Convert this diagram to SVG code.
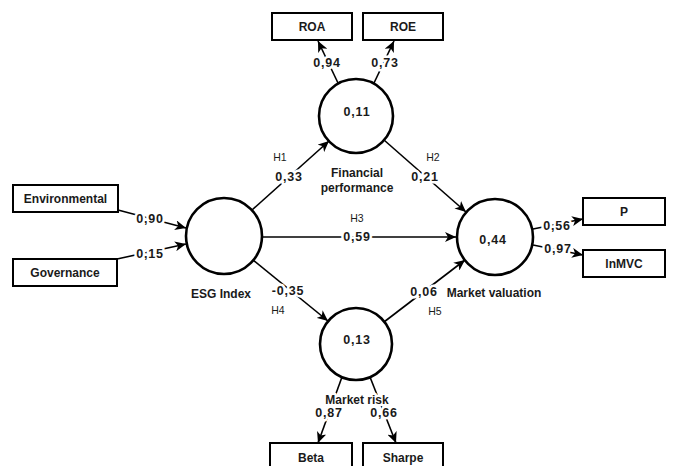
<svg xmlns="http://www.w3.org/2000/svg" width="673" height="466" viewBox="0 0 673 466">
<style>
text{font-family:"Liberation Sans",Arial,sans-serif;fill:#1a1a1a;text-anchor:middle;dominant-baseline:central}
.lbl{font-size:12px;font-weight:bold}
.num{font-size:12.5px;font-weight:bold;letter-spacing:0.8px}
.h{font-size:10.5px}
.halo{paint-order:stroke;stroke:#fff;stroke-width:5px;stroke-linejoin:round}
.box{fill:#fff;stroke:#000;stroke-width:2}
.lv{fill:#fff;stroke:#000;stroke-width:2.6}
.edge{stroke:#000;stroke-width:1.6;fill:none;marker-end:url(#arr)}
</style>
<defs>
<marker id="arr" markerUnits="userSpaceOnUse" markerWidth="12" markerHeight="10" refX="11" refY="5" orient="auto">
<path d="M0,0 L11,5 L0,10 L3,5 z" fill="#000"/>
</marker>
</defs>
<rect width="673" height="466" fill="#fff"/>
<g id="connectors">
<line class="edge" x1="118" y1="210" x2="186" y2="228"/>
<line class="edge" x1="117" y1="259" x2="186" y2="244"/>
<line class="edge" x1="252" y1="210" x2="329" y2="141"/>
<line class="edge" x1="384" y1="140" x2="466" y2="212"/>
<line class="edge" x1="262" y1="237" x2="456" y2="237"/>
<line class="edge" x1="253" y1="260" x2="328" y2="321"/>
<line class="edge" x1="384" y1="322" x2="465" y2="260"/>
<line class="edge" x1="533" y1="229" x2="583" y2="219"/>
<line class="edge" x1="533" y1="245" x2="583" y2="255"/>
<line class="edge" x1="338" y1="83" x2="318" y2="41"/>
<line class="edge" x1="374" y1="83" x2="394" y2="41"/>
<line class="edge" x1="342" y1="377" x2="318" y2="443"/>
<line class="edge" x1="370" y1="377" x2="396" y2="443"/>
<text class="num halo" x="150" y="219">0,90</text>
<text class="num halo" x="150" y="254">0,15</text>
<text class="h" x="280" y="157">H1</text>
<text class="num halo" x="289" y="177">0,33</text>
<text class="h" x="433" y="157">H2</text>
<text class="num halo" x="425" y="177">0,21</text>
<text class="h" x="357" y="218">H3</text>
<text class="num halo" x="357" y="237">0,59</text>
<text class="num halo" x="288" y="291">-0,35</text>
<text class="h" x="278" y="310">H4</text>
<text class="num halo" x="424" y="292">0,06</text>
<text class="h" x="435" y="311">H5</text>
<text class="num halo" x="557" y="226">0,56</text>
<text class="num halo" x="558" y="249">0,97</text>
<text class="num halo" x="327" y="63">0,94</text>
<text class="num halo" x="385" y="63">0,73</text>
<text class="num halo" x="329" y="413">0,87</text>
<text class="num halo" x="384" y="413">0,66</text>
</g>
<g id="environmental"><rect class="box" x="13" y="185" width="105" height="27"/><text class="lbl" x="65.5" y="199">Environmental</text></g>
<g id="governance"><rect class="box" x="13" y="259" width="104" height="27"/><text class="lbl" x="65" y="273">Governance</text></g>
<g id="esg-index"><circle class="lv" cx="224" cy="236" r="38"/><text class="lbl" x="221" y="294">ESG Index</text></g>
<g id="financial-performance"><circle class="lv" cx="356" cy="116" r="37"/><text class="num" x="357" y="112">0,11</text><text class="lbl" x="357" y="173">Financial</text><text class="lbl" x="357" y="188">performance</text></g>
<g id="market-risk"><circle class="lv" cx="356" cy="344" r="36"/><text class="num" x="357" y="340">0,13</text><text class="lbl halo" x="357" y="400">Market risk</text></g>
<g id="market-valuation"><circle class="lv" cx="495" cy="237" r="38"/><text class="num" x="493" y="240">0,44</text><text class="lbl" x="494" y="293">Market valuation</text></g>
<g id="roa"><rect class="box" x="272" y="13" width="80" height="27"/><text class="lbl" x="312" y="27">ROA</text></g>
<g id="roe"><rect class="box" x="363" y="13" width="80" height="27"/><text class="lbl" x="403" y="27">ROE</text></g>
<g id="p"><rect class="box" x="583" y="198" width="82" height="27"/><text class="lbl" x="624" y="212">P</text></g>
<g id="lnmvc"><rect class="box" x="583" y="250" width="82" height="27"/><text class="lbl" x="624" y="264">lnMVC</text></g>
<g id="beta"><rect class="box" x="270" y="443" width="82" height="30"/><text class="lbl" x="311" y="458">Beta</text></g>
<g id="sharpe"><rect class="box" x="363" y="443" width="80" height="30"/><text class="lbl" x="403" y="458">Sharpe</text></g>
</svg>
